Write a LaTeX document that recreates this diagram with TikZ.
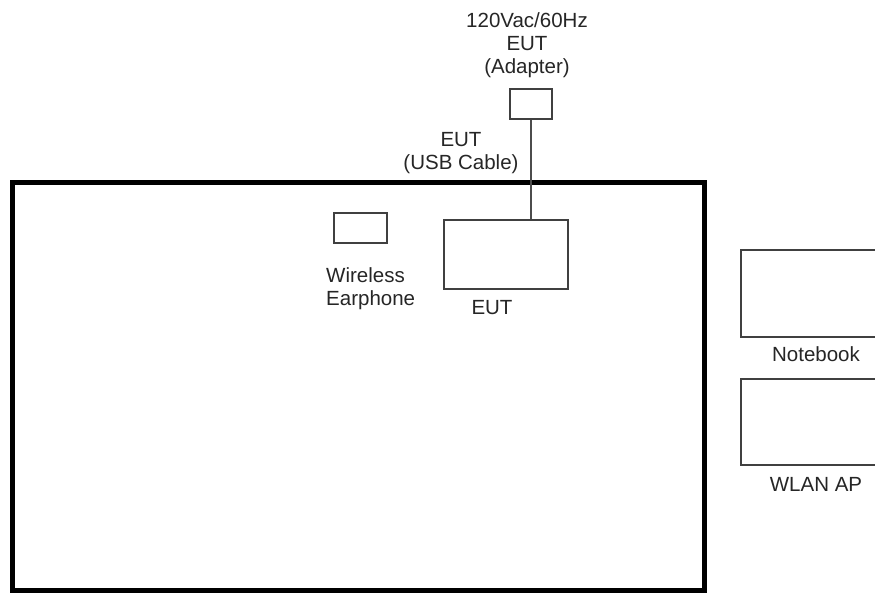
\documentclass[tikz,border=0pt]{standalone}
\usepackage{fontspec}
\setmainfont{Liberation Sans}
\begin{document}
\begin{tikzpicture}[x=1pt,y=-1pt,
  lbl/.style={font=\fontsize{20.5}{23}\selectfont, text=black!85, inner sep=0pt, align=center},
  dev/.style={draw=black!75, line width=2pt, fill=white, inner sep=0pt},
  thin/.style={draw=black!70, line width=2pt}]
\useasboundingbox (0,0) rectangle (875,592);
\clip (0,0) rectangle (875,592);
\fill[white] (0,0) rectangle (875,592);
% table
\draw[line width=5pt, draw=black] (12,182) rectangle (704,590);
% devices
\node[dev, minimum width=42pt, minimum height=30pt] (adapter) at (531,104) {};
\node[dev, minimum width=124pt, minimum height=69pt] (eut) at (506,254.5) {};
\node[dev, minimum width=53pt, minimum height=30pt] (earphone) at (360.5,228) {};
\node[dev, minimum width=160pt, minimum height=87pt, anchor=north west] (notebook) at (740,249) {};
\node[dev, minimum width=160pt, minimum height=86pt, anchor=north west] (ap) at (740,378) {};
% cable
\draw[thin] (adapter.south) -- (adapter.south |- eut.north);
% labels
\node[lbl] (adlbl) at (527,45) {120Vac/60Hz\\EUT\\(Adapter)};
\node[lbl] (usblbl) at (461,153) {EUT\\(USB Cable)};
\node[lbl] (eutlbl) at (492,308) {EUT};
\node[lbl, align=left, anchor=west] (earlbl) at (326,289) {Wireless\\Earphone};
\node[lbl] (nblbl) at (816,354) {Notebook};
\node[lbl] (aplbl) at (816,484) {WLAN AP};
\end{tikzpicture}
\end{document}
